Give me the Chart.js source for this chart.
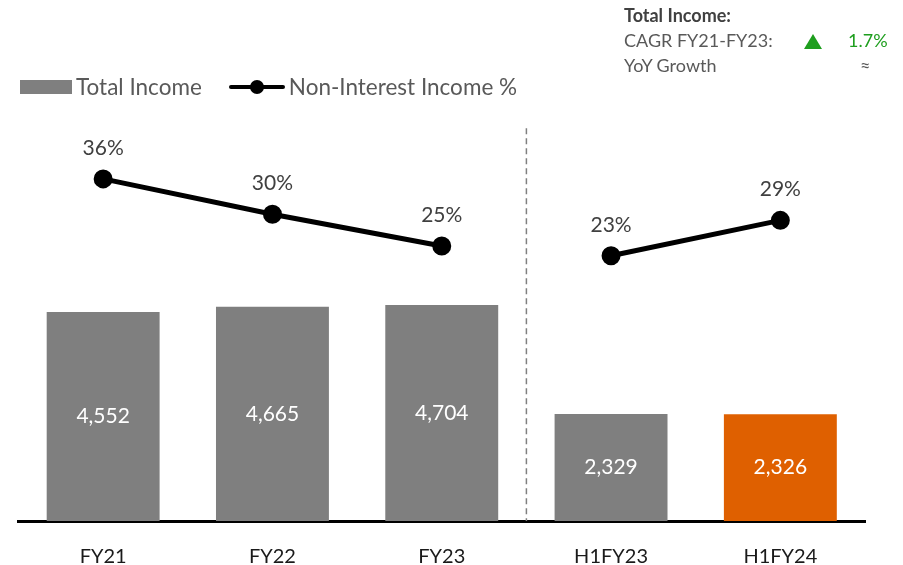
<!DOCTYPE html>
<html>
<head>
<meta charset="utf-8">
<script src="https://cdn.jsdelivr.net/npm/chart.js@4"></script>
<style>
    body { margin: 0; background: #fff; font-family: Lato, sans-serif; }
    #wrap { position: relative; width: 903px; height: 565px; overflow: hidden; }
    #chart { position: absolute; left: 0; top: 0; }
    .legend { position: absolute; left: 20px; top: 73px; display: flex; align-items: center; font-size: 22.5px; color: #595959; }
    .legend .box { width: 52px; height: 14px; background: #7F7F7F; margin-right: 4px; }
    .legend .lineKey { position: relative; width: 56px; height: 4px; background: #000; margin: 0 4px 0 27px; border-radius: 2px; }
    .legend .lineKey::after { content: ''; position: absolute; left: 21px; top: -5px; width: 14px; height: 14px; border-radius: 50%; background: #000; }
    .note { position: absolute; left: 624px; top: 3px; font-size: 18px; color: #595959; line-height: 25px; }
    .note b { color: #404040; }
    .note .row { position: relative; width: 270px; }
    .note .tri { position: absolute; left: 180px; top: 6px; width: 0; height: 0; border-left: 9px solid transparent; border-right: 9px solid transparent; border-bottom: 15px solid #1E9E1E; }
    .note .val { position: absolute; left: 224px; color: #1E9E1E; }
    .note .approx { position: absolute; left: 236px; }
</style>
</head>
<body>
<div id="wrap">
    <canvas id="chart" width="903" height="565"></canvas>
    <div class="legend">
        <span class="box"></span><span>Total Income</span>
        <span class="lineKey"></span><span>Non-Interest Income %</span>
    </div>
    <div class="note">
        <div class="row"><b>Total Income:</b></div>
        <div class="row">CAGR FY21-FY23:<span class="tri"></span><span class="val">1.7%</span></div>
        <div class="row">YoY Growth<span class="approx">≈</span></div>
    </div>
</div>
<script>
// Chart data
const categories = ['FY21', 'FY22', 'FY23', 'H1FY23', 'H1FY24'];
const totalIncome = [4552, 4665, 4704, 2329, 2326];
const nonInterestPct = [36.0, 30.2, 25.0, 23.4, 29.2];
const barColors = ['#7F7F7F', '#7F7F7F', '#7F7F7F', '#7F7F7F', '#DF6000'];

// vertical divider between annual and half-year figures (top in income units)
const dividerTop = 8550;

const labelsPlugin = {
    id: 'labels',
    afterDatasetsDraw(chart) {
        const ctx = chart.ctx;
        const x = chart.scales.x;
        const y = chart.scales.y;

        // dashed divider
        const dx = (x.getPixelForValue(2) + x.getPixelForValue(3)) / 2;
        ctx.save();
        ctx.strokeStyle = '#7F7F7F';
        ctx.lineWidth = 1.5;
        ctx.setLineDash([6, 4]);
        ctx.beginPath();
        ctx.moveTo(dx, y.getPixelForValue(dividerTop));
        ctx.lineTo(dx, y.getPixelForValue(0));
        ctx.stroke();
        ctx.restore();

        ctx.save();
        ctx.textAlign = 'center';
        ctx.textBaseline = 'middle';
        ctx.font = '21px Lato';

        // bar values
        ctx.fillStyle = '#fff';
        chart.getDatasetMeta(0).data.forEach((bar, i) => {
            ctx.fillText(totalIncome[i].toLocaleString('en-US'), bar.x, (bar.y + bar.base) / 2);
        });

        // line values
        ctx.fillStyle = '#404040';
        chart.getDatasetMeta(1).data.forEach((pt, i) => {
            ctx.fillText(Math.round(nonInterestPct[i]) + '%', pt.x, pt.y - 31);
        });
        ctx.restore();
    }
};

const ctx = document.getElementById('chart').getContext('2d');
const chart = new Chart(ctx, {
    type: 'bar',
    data: {
        labels: categories,
        datasets: [{
            type: 'bar',
            label: 'Total Income',
            data: totalIncome,
            backgroundColor: barColors,
            categoryPercentage: 1,
            barPercentage: 0.667,
            yAxisID: 'y',
            order: 1
        }, {
            type: 'line',
            label: 'Non-Interest Income %',
            data: nonInterestPct,
            borderColor: '#000',
            backgroundColor: '#000',
            borderWidth: 5,
            pointRadius: 7,
            pointHoverRadius: 7,
            segment: {
                borderColor: c => c.p0DataIndex === 2 ? 'transparent' : '#000'
            },
            yAxisID: 'y2',
            order: 0
        }]
    },
    options: {
        responsive: false,
        animation: false,
        layout: { padding: { left: 18.5, right: 38, top: 110, bottom: 0 } },
        scales: {
            x: {
                grid: { display: false, drawTicks: false },
                border: { color: '#000', width: 3 },
                ticks: { padding: 24, color: '#1a1a1a', font: { family: 'Lato', size: 20 } },
                afterFit: s => { s.height = 44; }
            },
            y: { display: false, min: 0, max: 8950 },
            y2: { display: false, min: -20.1, max: 47.3 }
        },
        plugins: {
            legend: { display: false },
            tooltip: { enabled: false }
        }
    },
    plugins: [labelsPlugin]
});
</script>
</body>
</html>
